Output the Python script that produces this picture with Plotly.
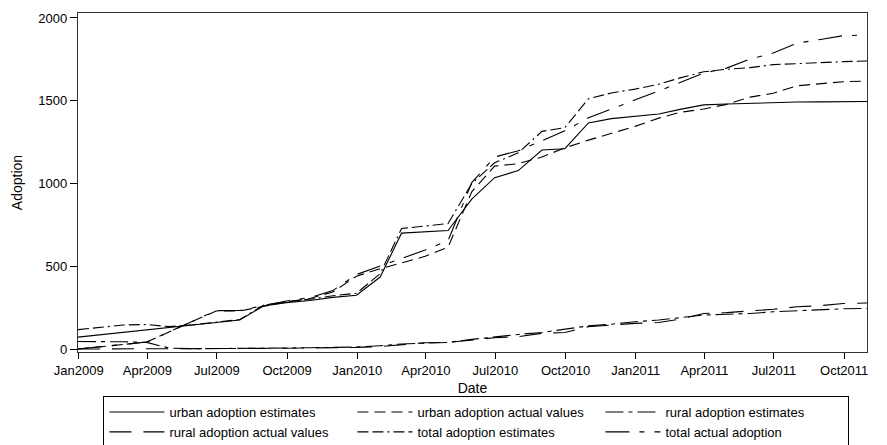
import plotly.graph_objects as go

dates = ["2008-12-31", "2009-01-31", "2009-02-28", "2009-03-31", "2009-04-30", "2009-05-31",
         "2009-06-30", "2009-07-31", "2009-08-31", "2009-09-30", "2009-10-31", "2009-11-30",
         "2009-12-31", "2010-01-31", "2010-02-28", "2010-03-31", "2010-04-30", "2010-05-31",
         "2010-06-30", "2010-07-31", "2010-08-31", "2010-09-30", "2010-10-31", "2010-11-30",
         "2010-12-31", "2011-01-31", "2011-02-28", "2011-03-31", "2011-04-30", "2011-05-31",
         "2011-06-30", "2011-07-31", "2011-08-31", "2011-09-30", "2011-10-31"]

urban_est = [72, 87, 101, 113, 130, 145, 160, 175, 260, 280, 293, 312, 325, 435, 700, 710, 716,
             905, 1035, 1078, 1202, 1210, 1366, 1392, 1405, 1420, 1448, 1475, 1480, 1485, 1490,
             1492, 1493, 1494, 1495]
urban_act = [0, 14, 28, 42, 105, 168, 230, 230, 258, 285, 305, 345, 440, 485, 520, 560, 615,
             950, 1105, 1120, 1160, 1215, 1262, 1305, 1345, 1395, 1430, 1450, 1478, 1522, 1545,
             1590, 1605, 1615, 1619]
rural_est = [45, 45, 44, 40, 5, 2, 2, 3, 5, 6, 8, 10, 12, 20, 30, 36, 40, 58, 75, 88, 100, 118,
             140, 150, 165, 175, 190, 205, 210, 215, 225, 232, 238, 243, 245]
rural_act = [0, 0, 0, 0, 0, 0, 2, 3, 4, 5, 6, 8, 10, 15, 25, 38, 40, 55, 68, 75, 95, 100, 135,
             145, 155, 160, 180, 215, 220, 230, 240, 255, 262, 275, 278]
total_est = [117, 132, 145, 148, 135, 147, 162, 178, 265, 286, 301, 322, 337, 455, 728, 745, 758,
             1000, 1125, 1185, 1315, 1337, 1512, 1547, 1570, 1600, 1638, 1675, 1690, 1700, 1718,
             1724, 1731, 1736, 1740]
total_act = [0, 14, 28, 42, 105, 168, 232, 233, 262, 290, 311, 353, 450, 500, 545, 598, 655,
             1005, 1160, 1198, 1258, 1318, 1397, 1450, 1500, 1559, 1610, 1667, 1697, 1752, 1788,
             1848, 1870, 1893, 1897]

series_names = ["urban adoption estimates", "urban adoption actual values",
                "rural adoption estimates", "rural adoption actual values",
                "total adoption estimates", "total actual adoption"]
series_values = [urban_est, urban_act, rural_est, rural_act, total_est, total_act]
series_dash = ["solid", "11px,6px", "18px,5px,4px,5px", "22px,12px",
               "11px,4px,11px,4px,2px,4px", "24px,10px,5px,10px"]

x_ticks = ["2009-01-01", "2009-04-01", "2009-07-01", "2009-10-01", "2010-01-01", "2010-04-01",
           "2010-07-01", "2010-10-01", "2011-01-01", "2011-04-01", "2011-07-01", "2011-10-01"]
x_tick_labels = ["Jan2009", "Apr2009", "Jul2009", "Oct2009", "Jan2010", "Apr2010",
                 "Jul2010", "Oct2010", "Jan2011", "Apr2011", "Jul2011", "Oct2011"]
y_ticks = [0, 500, 1000, 1500, 2000]

FONT = "Liberation Sans, Arial, sans-serif"

fig = go.Figure()
for name, vals, dash in zip(series_names, series_values, series_dash):
    fig.add_trace(go.Scatter(x=dates, y=vals, mode="lines", name=name,
                             line=dict(color="black", width=1.1, dash=dash)))

# page body has an 8px default margin, so the figure is 8px smaller than the window
fig.update_layout(
    width=879, height=437,
    margin=dict(l=70, r=20, t=5, b=93, autoexpand=False),
    paper_bgcolor="white", plot_bgcolor="white",
    font=dict(family=FONT, size=13, color="black"),
    showlegend=True,
    legend=dict(orientation="h", x=0.505, xanchor="center", y=-0.13, yanchor="top",
                bordercolor="black", borderwidth=1, entrywidth=178, entrywidthmode="pixels",
                itemwidth=55, font=dict(size=13, family=FONT), tracegroupgap=0,
                traceorder="normal"),
)
fig.update_xaxes(
    range=["2008-12-31", "2011-10-31"],
    tickvals=x_ticks, ticktext=x_tick_labels,
    ticks="outside", ticklen=6, tickwidth=1, tickcolor="black",
    showline=True, linecolor="#333", linewidth=1.3, mirror=True,
    showgrid=False, zeroline=False,
    title=dict(text="Date", font=dict(size=14, family=FONT), standoff=6),
)
fig.update_yaxes(
    range=[-18, 2030],
    tickvals=y_ticks,
    ticks="outside", ticklen=7, tickwidth=1, tickcolor="black",
    showline=True, linecolor="#333", linewidth=1.3, mirror=True,
    showgrid=False, zeroline=False,
    title=dict(text="Adoption", font=dict(size=14, family=FONT), standoff=12),
)

fig.write_html("out.html")
